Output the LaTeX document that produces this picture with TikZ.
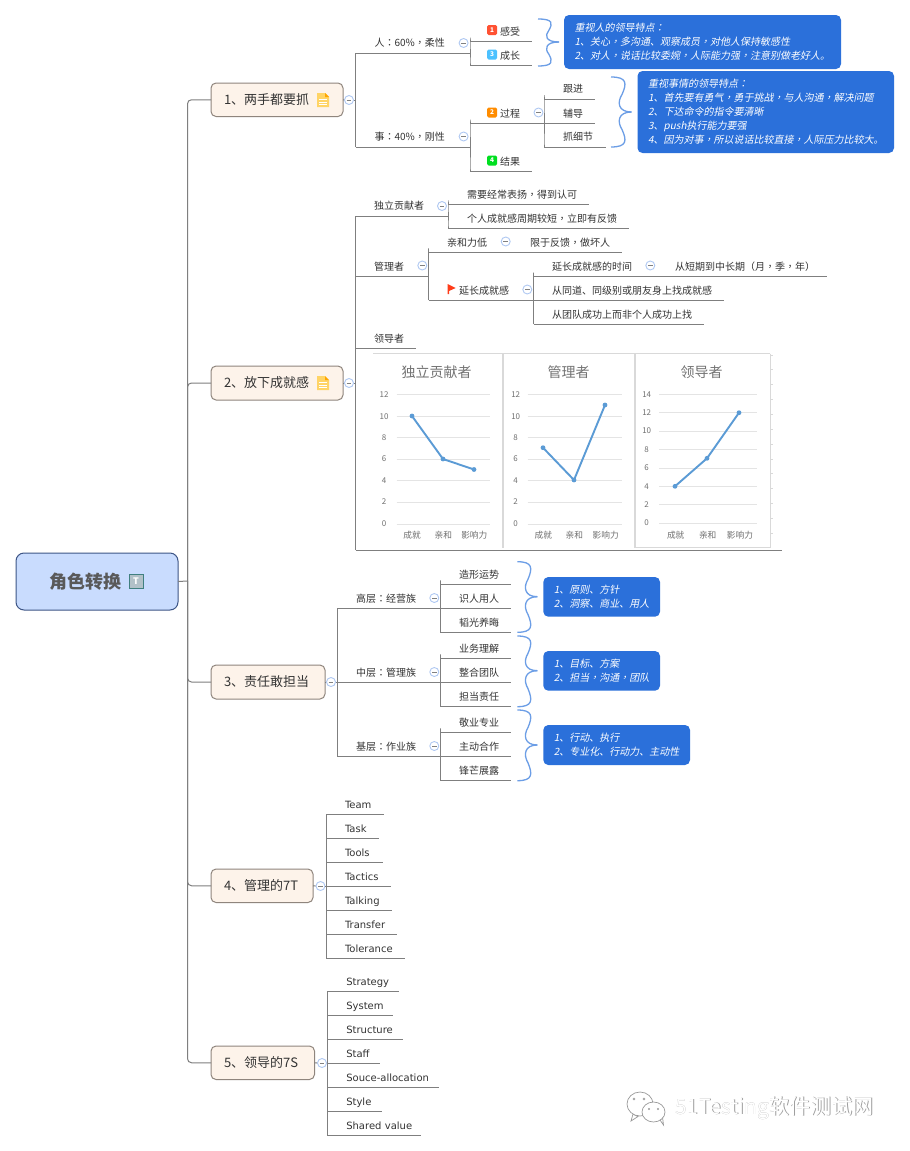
\documentclass[tikz,border=0pt]{standalone}
\usepackage{fontspec}
\setmainfont{Noto Sans CJK SC}
\newfontfamily\tcfont{Noto Sans CJK TC}
\newfontfamily\itcjk[FakeSlant=0.2]{Noto Sans CJK SC}
\newfontfamily\ittc[FakeSlant=0.2]{Noto Sans CJK TC}
\newfontfamily\latinf{DejaVu Sans}
\newcommand{\cmt}{{\tcfont ，}}
\newcommand{\clt}{{\tcfont ：}}
\newcommand{\icmt}{{\ittc ，}}
\newcommand{\iclt}{{\ittc ：}}
\definecolor{conncol}{HTML}{7F7F7F}
\definecolor{txt}{HTML}{333333}
\definecolor{notecol}{HTML}{2B70DA}
\definecolor{bracecol}{HTML}{6C9EE6}
\definecolor{rootfill}{HTML}{C9DCFE}
\definecolor{rootline}{HTML}{3D5586}
\definecolor{topfill}{HTML}{FDF3EA}
\definecolor{topline}{HTML}{8F857D}
\definecolor{tglline}{HTML}{AFC8F2}
\definecolor{gridc}{HTML}{E4E4E4}
\definecolor{framec}{HTML}{D9D9D9}
\definecolor{serc}{HTML}{5B9BD5}
\definecolor{axc}{HTML}{707070}
\definecolor{docc}{HTML}{FFD466}
\tikzset{
  conn/.style={draw=conncol,line width=1pt},
  rc/.style={rounded corners=4pt},
  leafbox/.style={inner sep=0pt,outer sep=0pt,minimum height=20pt,align=left,
    font=\fontsize{10}{12}\selectfont,text=txt,text height=8.8pt,text depth=1.2pt},
  topicbox/.style={draw=topline,fill=topfill,rounded corners=5pt,line width=1pt,inner ysep=0pt,inner xsep=13pt,
    outer sep=0pt,align=left,font=\fontsize{13}{15}\selectfont,text=txt,text height=11.4pt,text depth=1.6pt},
  rootbox/.style={draw=rootline,fill=rootfill,rounded corners=8pt,line width=1pt,inner sep=0pt,outer sep=0pt,
    align=left,font=\fontsize{18}{20}\selectfont\bfseries,text=black!65,text height=15.8pt,text depth=2.2pt},
  tglnode/.style={circle,draw=tglline,fill=white,line width=.9pt,minimum size=9pt,inner sep=0pt,
    path picture={\draw[black!50,line width=.7pt] (path picture bounding box.center)+(-2.3,0) -- +(2.3,0);}},
  badge/.style={rounded corners=1.5pt,minimum size=10pt,inner sep=0pt,text=white,font=\fontsize{6.5}{7}\selectfont\bfseries},
  notebox/.style={fill=notecol,rounded corners=5pt,inner ysep=0pt,inner xsep=10.5pt,outer sep=0pt,text=white,align=left,
    font=\fontsize{10}{14}\selectfont\itcjk},
  bracepath/.style={draw=bracecol,line width=1.3pt},
  chartT/.style={font=\fontsize{14}{16}\selectfont,text=black!55,inner sep=0pt},
  axl/.style={font=\fontsize{8}{9}\selectfont,text=axc,inner sep=0pt},
  catl/.style={font=\fontsize{8.7}{10}\selectfont,text=axc,inner sep=0pt},
  serline/.style={draw=serc,line width=1.9pt,line join=round},
  grid/.style={draw=gridc,line width=1pt},
  frameln/.style={draw=framec,line width=1pt},
  wm/.style={font=\fontsize{21}{23}\selectfont,inner sep=0pt,anchor=west},
}
% name x0 x1 y textx text
\newcommand{\leafn}[6]{\pgfmathsetmacro{\lw}{#3-#2}\pgfmathsetmacro{\lo}{#5-#2}%
  \node[leafbox,minimum width=\lw pt,text width=\lw pt,anchor=south west] (#1) at (#2,#4) {\hspace*{\lo pt}\mbox{#6}};%
  \draw[conn] (#1.south west) -- (#1.south east);}
% name x0 x1 y0 y1 text
\newcommand{\topicn}[6]{\pgfmathsetmacro{\lw}{#3-#2}\pgfmathsetmacro{\lh}{#5-#4}\pgfmathsetmacro{\lt}{#3-#2-26}%
  \node[topicbox,minimum width=\lw pt,minimum height=\lh pt,text width=\lt pt,anchor=north west] (#1) at (#2,#4) {\mbox{#6}};}
% name x0 x1 y0 y1 text
\newcommand{\noten}[6]{\pgfmathsetmacro{\lw}{#3-#2}\pgfmathsetmacro{\lh}{#5-#4}\pgfmathsetmacro{\lt}{#3-#2-21}%
  \node[notebox,minimum width=\lw pt,minimum height=\lh pt,text width=\lt pt,anchor=north west] (#1) at (#2,#4) {#6};}
% name x y
\newcommand{\tgl}[3]{\node[tglnode] (#1) at (#2,#3) {};}
% x0 xin xpk xtip ytop ytip ybot
\newcommand{\bracen}[7]{\pgfmathsetmacro{\xm}{(#2+#3)/2}\pgfmathsetmacro{\ya}{(#5+#6)/2}\pgfmathsetmacro{\yb}{(#6+#7)/2}%
  \pgfmathsetmacro{\yaa}{#5+(#6-#5)*0.18}\pgfmathsetmacro{\yac}{#5+(#6-#5)*0.72}%
  \pgfmathsetmacro{\ybb}{#7-(#7-#6)*0.18}\pgfmathsetmacro{\ybc}{#7-(#7-#6)*0.72}%
  \pgfmathsetmacro{\xr}{#3+1}\pgfmathsetmacro{\xl}{#2-1}%
  \draw[bracepath] (#1,#5) .. controls (\xr,#5) and (\xr,\yaa) .. (\xm,\ya) .. controls (\xl,\yac) and (#2,#6) .. (#4,#6);
  \draw[bracepath] (#1,#7) .. controls (\xr,#7) and (\xr,\ybb) .. (\xm,\yb) .. controls (\xl,\ybc) and (#2,#6) .. (#4,#6);}
% x y
\newcommand{\docicon}[2]{\begin{scope}[shift={(#1,#2)}]
  \fill[docc] (0,0) -- (8,0) -- (12,4) -- (12,14) -- (0,14) -- cycle;
  \fill[orange!70!yellow] (8,0) -- (12,4) -- (8,4) -- cycle;
  \draw[white,line width=.9pt] (2,6.5) -- (10,6.5) (2,9) -- (10,9) (2,11.5) -- (10,11.5);
\end{scope}}
\begin{document}
\begin{tikzpicture}[x=1pt,y=-1pt]
\useasboundingbox (0,0) rectangle (910,1151);
\fill[white] (0,0) rectangle (910,1151);

% root
\node[rootbox,minimum width=162pt,minimum height=57pt,text width=162pt,anchor=north west] (root) at (16,553) {\hspace*{33pt}\mbox{角色转换}};
\node[draw=teal!50!gray,fill=cyan!20!gray!60,minimum size=13.5pt,inner sep=0pt,text=white,font=\fontsize{9}{10}\selectfont\bfseries] (ticon) at (136,581) {T};

% topics
\topicn{t1}{211}{343}{83}{116.5}{1、两手都要抓}
\topicn{t2}{211}{343}{366}{400}{2、放下成就感}
\topicn{t3}{211}{325}{665}{699}{3、责任敢担当}
\topicn{t4}{211}{313}{869}{902.5}{4、管理的7T}
\topicn{t5}{211}{314.5}{1046}{1079.5}{5、领导的7S}
\docicon{317}{93}
\docicon{317}{376}

\coordinate (rootj) at (187.5,581);
\draw[conn] (root.east) -- (rootj);
\foreach \t in {t1,t2,t3,t4,t5}{\draw[conn,rc] (rootj) |- (\t.west);}

% topic junctions
\tgl{g1}{349}{100}\coordinate (j1) at (355.5,100);
\tgl{g2}{349}{383}\coordinate (j2) at (355.5,383);
\tgl{g3}{331}{682}\coordinate (j3) at (337.3,682);
\tgl{g4}{320.5}{886}\coordinate (j4) at (326.3,886);
\tgl{g5}{322}{1063}\coordinate (j5) at (327.3,1063);
\foreach \i in {1,...,5}{\draw[conn] (t\i.east) -- (g\i.west); \draw[conn] (g\i.east) -- (j\i);}

% ---- branch 1
\leafn{ren}{355.5}{470}{53}{374.5}{人\clt 60\%\cmt 柔性}
\leafn{shi}{355.5}{470}{147}{374.5}{事\clt 40\%\cmt 刚性}
\draw[conn] (j1) |- (ren.south west);
\draw[conn] (j1) |- (shi.south west);
\tgl{gren}{463.6}{43}\tgl{gshi}{463.6}{136.5}
\leafn{gs}{470}{531.6}{41.5}{500}{感受}
\leafn{cz}{470}{531.6}{65.5}{500}{成长}
\leafn{gc}{470}{544}{123.5}{500}{过程}
\leafn{jg}{470}{531.6}{171.5}{500}{结果}
\node[badge,fill=red!70!orange!80] (b1) at (492,30) {1};
\node[badge,fill=blue!35!cyan!70] (b3) at (492,54.5) {3};
\node[badge,fill=orange!90!yellow] (b2) at (492,112.5) {2};
\node[badge,fill=green!75!teal] (b4) at (492,160.5) {4};
\draw[conn,rc] (ren.south east) |- (gs.south west);
\draw[conn,rc] (ren.south east) |- (cz.south west);
\draw[conn,rc] (shi.south east) |- (gc.south west);
\draw[conn,rc] (shi.south east) |- (jg.south west);
\tgl{ggc}{538.5}{112.5}
\leafn{gj}{544}{594.5}{99}{563}{跟进}
\leafn{fd}{544}{594.5}{123.5}{563}{辅导}
\leafn{zx}{544}{606}{147}{563}{抓细节}
\draw[conn,rc] (gc.south east) |- (gj.south west);
\draw[conn,rc] (gc.south east) |- (zx.south west);
\bracen{538}{545.5}{552}{559}{19}{42}{66}
\bracen{611}{618}{626}{631.5}{77}{112}{147}
\noten{n1}{564}{841}{15}{69}{重视人的领导特点\iclt\\1、关心\icmt 多沟通、观察成员\icmt 对他人保持敏感性\\2、对人\icmt 说话比较委婉\icmt 人际能力强\icmt 注意别做老好人。}
\noten{n2}{637.5}{894}{71}{153}{重视事情的领导特点\iclt\\1、首先要有勇气\icmt 勇于挑战\icmt 与人沟通\icmt 解决问题\\2、下达命令的指令要清晰\\3、push执行能力要强\\4、因为对事\icmt 所以说话比较直接\icmt 人际压力比较大。}

% ---- branch 2
\leafn{dl}{355.5}{448}{216}{374}{独立贡献者}
\leafn{gl}{355.5}{428.5}{276.7}{374}{管理者}
\leafn{ld}{355.5}{416}{348.3}{374}{领导者}
\draw[conn] (j2) |- (dl.south west);
\draw[conn] (j2) |- (gl.south west);
\draw[conn] (j2) |- (ld.south west);
\tgl{gdl}{442}{206}\tgl{ggl}{422.3}{265.5}
\leafn{xy}{448}{589}{204.3}{467}{需要经常表扬\cmt 得到认可}
\leafn{gr}{448}{628.7}{228.5}{467}{个人成就感周期较短\cmt 立即有反馈}
\draw[conn,rc] (dl.south east) |- (xy.south west);
\draw[conn,rc] (dl.south east) |- (gr.south west);
\leafn{qh}{428.5}{511.7}{252.3}{447}{亲和力低}
\leafn{yc}{428.5}{533.5}{300.3}{459}{延长成就感}
\draw[conn,rc] (gl.south east) |- (qh.south west);
\draw[conn,rc] (gl.south east) |- (yc.south west);
\fill[red!70!orange!90] (447.7,284) -- (455.7,288) -- (449,291) -- (449,294) -- (447.7,294) -- cycle;
\tgl{gqh}{505.7}{241.5}\tgl{gyc}{527.3}{289.5}
\leafn{xf}{511.7}{622}{252.3}{530}{限于反馈\cmt 做坏人}
\draw[conn] (qh.south east) -- (xf.south west);
\leafn{ycs}{533.5}{656}{276.7}{552}{延长成就感的时间}
\leafn{ct}{533.5}{724}{300.3}{552}{从同道、同级别或朋友身上找成就感}
\leafn{ctd}{533.5}{704}{324.3}{552}{从团队成功上而非个人成功上找}
\draw[conn,rc] (yc.south east) |- (ycs.south west);
\draw[conn,rc] (yc.south east) |- (ctd.south west);
\tgl{gycs}{650.3}{265.5}
\leafn{cd}{656}{826.7}{276.7}{675}{从短期到中长期（月\cmt 季\cmt 年）}
\draw[conn] (ycs.south east) -- (cd.south west);
% chart image holder
\leafn{img}{355.5}{781.7}{550}{356}{}
\draw[conn] (j2) |- (img.south west);

% chart frame
\draw[frameln] (373,353.5) -- (770,353.5);
\draw[frameln] (770,353.5) -- (770,547.5) -- (635,547.5);
\draw[framec,line width=1.6pt] (503,353.5) -- (503,548);
\draw[framec,line width=1.6pt] (635,353.5) -- (635,548);
\foreach \i in {0,...,12}{\draw[framec,line width=.8pt] (770,355+14.85*\i) -- ++(3,0);}

% chart 1
\node[chartT] (c1t) at (436.7,371.7) {独立贡献者};
\foreach \v/\yy in {12/394.3,10/416.3,8/437.7,6/459,4/480.7,2/502,0/524}{
  \draw[grid] (396.7,\yy) -- (490,\yy);
  \node[axl] (c1y\v) at (384,\yy) {\v};}
\node[catl] (c1a) at (412,535.3) {成就};
\node[catl] (c1b) at (443.3,535.3) {亲和};
\node[catl] (c1c) at (474.3,535.3) {影响力};
\draw[serline] (412,416) -- (443,459) -- (474,469.5);
\foreach \p in {(412,416),(443,459),(474,469.5)}{\fill[serc] \p circle (2.4);}

% chart 2
\node[chartT] (c2t) at (568.7,371.7) {管理者};
\foreach \v/\yy in {12/394.3,10/416.3,8/437.7,6/459,4/480.7,2/502,0/524}{
  \draw[grid] (527.7,\yy) -- (621.7,\yy);
  \node[axl] (c2y\v) at (515.7,\yy) {\v};}
\node[catl] (c2a) at (543.3,535.3) {成就};
\node[catl] (c2b) at (574.3,535.3) {亲和};
\node[catl] (c2c) at (605.7,535.3) {影响力};
\draw[serline] (543,447.7) -- (574,480) -- (605,405);
\foreach \p in {(543,447.7),(574,480),(605,405)}{\fill[serc] \p circle (2.4);}

% chart 3
\node[chartT] (c3t) at (701.7,371.7) {领导者};
\foreach \v/\yy in {14/394.3,12/412.7,10/431,8/449.3,6/468,4/486.3,2/504.3,0/523}{
  \draw[grid] (659.3,\yy) -- (756.7,\yy);
  \node[axl] (c3y\v) at (646.7,\yy) {\v};}
\node[catl] (c3a) at (675.7,535) {成就};
\node[catl] (c3b) at (707.7,535) {亲和};
\node[catl] (c3c) at (740,535) {影响力};
\draw[serline] (675,486.3) -- (707,458.3) -- (739,412.7);
\foreach \p in {(675,486.3),(707,458.3),(739,412.7)}{\fill[serc] \p circle (2.4);}

% ---- branch 3
\leafn{gc1}{337.3}{440.3}{608.3}{356}{高层\clt 经营族}
\leafn{gc2}{337.3}{440.3}{682.3}{356}{中层\clt 管理族}
\leafn{gc3}{337.3}{440.3}{756.3}{356}{基层\clt 作业族}
\draw[conn] (j3) |- (gc1.south west);
\draw[conn] (j3) -- (gc2.south west);
\draw[conn] (j3) |- (gc3.south west);
\tgl{ggc1}{434.3}{598}\tgl{ggc2}{434.3}{672}\tgl{ggc3}{434.3}{746}
\leafn{a1}{440.3}{511}{584.3}{459}{造形运势}
\leafn{a2}{440.3}{511}{608.3}{459}{识人用人}
\leafn{a3}{440.3}{511}{632.3}{459}{韬光养晦}
\leafn{b1l}{440.3}{511}{658.3}{459}{业务理解}
\leafn{b2l}{440.3}{511}{682.3}{459}{整合团队}
\leafn{b3l}{440.3}{511}{706.3}{459}{担当责任}
\leafn{c1l}{440.3}{511}{732.3}{459}{敬业专业}
\leafn{c2l}{440.3}{511}{756.3}{459}{主动合作}
\leafn{c3l}{440.3}{511}{780.3}{459}{锋芒展露}
\draw[conn,rc] (gc1.south east) |- (a1.south west);
\draw[conn,rc] (gc1.south east) |- (a3.south west);
\draw[conn,rc] (gc2.south east) |- (b1l.south west);
\draw[conn,rc] (gc2.south east) |- (b3l.south west);
\draw[conn,rc] (gc3.south east) |- (c1l.south west);
\draw[conn,rc] (gc3.south east) |- (c3l.south west);
\bracen{517.3}{524.3}{531.7}{537.3}{561.7}{596.7}{632.3}
\bracen{517.3}{524.3}{531.7}{537.3}{636}{670.7}{706.7}
\bracen{517.3}{524.3}{531.7}{537.3}{710}{745}{780.7}
\noten{n3}{543.3}{660}{577}{616.7}{1、原则、方针\\2、洞察、商业、用人}
\noten{n4}{543.3}{660}{651}{690.7}{1、目标、方案\\2、担当\icmt 沟通\icmt 团队}
\noten{n5}{543.3}{690}{725}{765}{1、行动、执行\\2、专业化、行动力、主动性}

% ---- branch 4
\leafn{s1}{326.3}{384}{814.3}{345}{\latinf Team}
\leafn{s2}{326.3}{379}{838.3}{345}{\latinf Task}
\leafn{s3}{326.3}{383}{862.3}{345}{\latinf Tools}
\leafn{s4}{326.3}{391}{886.3}{345}{\latinf Tactics}
\leafn{s5}{326.3}{392}{910.3}{345}{\latinf Talking}
\leafn{s6}{326.3}{397}{934.3}{345}{\latinf Transfer}
\leafn{s7}{326.3}{405}{958.3}{345}{\latinf Tolerance}
\foreach \i in {1,...,7}{\draw[conn] (j4) |- (s\i.south west);}

% ---- branch 5
\leafn{u1}{327.3}{399}{991.3}{346.3}{\latinf Strategy}
\leafn{u2}{327.3}{393}{1015.3}{346.3}{\latinf System}
\leafn{u3}{327.3}{403}{1039.3}{346.3}{\latinf Structure}
\leafn{u4}{327.3}{380}{1063.3}{346.3}{\latinf Staff}
\leafn{u5}{327.3}{439}{1087.3}{346.3}{\latinf Souce-allocation}
\leafn{u6}{327.3}{382}{1111.3}{346.3}{\latinf Style}
\leafn{u7}{327.3}{421}{1135.3}{346.3}{\latinf Shared value}
\foreach \i in {1,...,7}{\draw[conn] (j5) |- (u\i.south west);}

% watermark
\begin{scope}[draw=black!40,line width=.7pt,fill=white]
\filldraw (633,1114) -- (631,1121) -- (638,1116.5) -- cycle;
\filldraw (640,1104) ellipse (13 and 12);
\filldraw (660,1120) -- (663.5,1125) -- (662.5,1117) -- cycle;
\filldraw (653.5,1112) ellipse (11.5 and 10);
\draw[line width=.5pt] (634,1099) circle (1) (644,1099) circle (1) (649,1109) circle (.8) (658,1109) circle (.8);
\end{scope}
\node[wm,text=black!38] (wmb) at (675.7,1108.6) {51Testing软件测试网};
\node[wm,text=white] (wmf) at (675,1108) {51Testing软件测试网};
\end{tikzpicture}
\end{document}
